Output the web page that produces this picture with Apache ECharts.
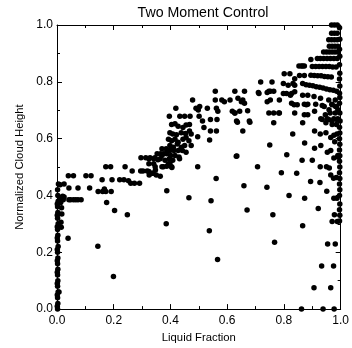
<!DOCTYPE html>
<html>
<head>
<meta charset="utf-8">
<script src="https://cdn.jsdelivr.net/npm/echarts@6/dist/echarts.min.js"></script>
<style>html,body{margin:0;padding:0;background:#fff}#c{width:352px;height:348px}</style>
</head>
<body>
<div id="c"></div>
<script>
var chartTitle = 'Two Moment Control';
var xName = 'Liquid Fraction';
var yName = 'Normalized Cloud Height';
var tickValues = [0.0, 0.2, 0.4, 0.6, 0.8, 1.0];

// [liquid fraction, normalized cloud height]
var leftStrip = [
 [0.002,0.0],[0.003,0.02],[0.002,0.04],[0.004,0.06],[0.007,0.06],[0.002,0.08],[0.003,0.1],[0.002,0.12],
 [0.003,0.14],[0.002,0.16],[0.003,0.18],[0.002,0.2],[0.004,0.22],[0.002,0.24],[0.003,0.26],[0.002,0.28],
 [0.004,0.3],[0.002,0.32],[0.003,0.34],[0.002,0.36],[0.004,0.38],[0.003,0.4],[0.002,0.42],[0.001,0.01],
 [0.001,0.05],[0.001,0.09],[0.001,0.13],[0.001,0.17],[0.001,0.21],[0.001,0.25],[0.001,0.29],[0.001,0.33],
 [0.001,0.37],[0.015,0.288],[0.014,0.306],[0.017,0.335],[0.016,0.357],[0.013,0.375],[0.01,0.392],
 [0.02,0.397],[0.025,0.395],[0.011,0.438],[0.025,0.44],[0.005,0.44]
];
var lowLeft = [
 [0.039,0.249],[0.144,0.221],[0.199,0.115],[0.248,0.332],
 [0.022,0.385],[0.042,0.385],[0.058,0.385],[0.074,0.385],[0.085,0.385],[0.048,0.385],[0.066,0.385],
 [0.042,0.426],[0.074,0.426],[0.115,0.426],
 [0.040,0.469],[0.058,0.469],[0.102,0.469],[0.120,0.469],
 [0.145,0.414],[0.161,0.414],[0.167,0.423],[0.172,0.414],[0.191,0.414],
 [0.159,0.455],[0.194,0.455],[0.221,0.455],[0.236,0.455],
 [0.172,0.501],[0.189,0.501],[0.240,0.501],
 [0.175,0.375],[0.203,0.347],
 [0.252,0.452],[0.260,0.443],[0.273,0.443],[0.291,0.443],
 [0.265,0.486],[0.295,0.486],[0.303,0.486],[0.318,0.486],[0.336,0.478]
];
var middle = [
 [0.324,0.529],[0.341,0.529],[0.324,0.512],[0.341,0.512],
 [0.296,0.533],[0.313,0.533],[0.328,0.533],[0.345,0.533],
 [0.324,0.484],[0.339,0.478],[0.350,0.472],[0.364,0.468],[0.325,0.472],
 [0.346,0.501],[0.356,0.526],[0.347,0.490],
 [0.364,0.529],[0.381,0.524],[0.396,0.529],[0.408,0.524],[0.432,0.529],
 [0.353,0.547],[0.370,0.541],[0.387,0.547],[0.401,0.541],[0.416,0.541],[0.430,0.535],
 [0.370,0.564],[0.385,0.564],[0.398,0.558],[0.412,0.558],[0.427,0.558],[0.442,0.558],[0.455,0.552],
 [0.398,0.576],[0.410,0.570],[0.424,0.581],[0.438,0.570],[0.450,0.576],[0.473,0.576],
 [0.393,0.598],[0.404,0.593],[0.416,0.598],[0.427,0.587],[0.444,0.598],[0.455,0.604],[0.465,0.593],
 [0.398,0.621],[0.408,0.616],[0.421,0.614],[0.438,0.621],[0.453,0.618],[0.467,0.627],[0.473,0.616],
 [0.404,0.650],[0.416,0.652],[0.427,0.644],[0.444,0.639],[0.455,0.648],[0.467,0.650],
 [0.396,0.679],[0.433,0.679],[0.450,0.679],[0.469,0.679],
 [0.419,0.707],[0.478,0.736],
 [0.375,0.501],[0.393,0.512],[0.404,0.501],[0.370,0.501],[0.387,0.503],[0.398,0.512],[0.405,0.498],
 [0.365,0.547],[0.375,0.547],[0.387,0.552],
 [0.387,0.417],[0.465,0.392],[0.543,0.381],[0.659,0.434],[0.561,0.460],[0.632,0.538],[0.496,0.501],
 [0.496,0.607],[0.538,0.595],[0.518,0.639],[0.541,0.627],[0.562,0.627],[0.655,0.627],
 [0.501,0.679],[0.513,0.662],[0.541,0.667],[0.564,0.667],[0.636,0.658],[0.680,0.658],
 [0.490,0.707],[0.498,0.701],[0.503,0.713],[0.530,0.707],[0.558,0.736],[0.562,0.707],[0.567,0.696],
 [0.590,0.730],[0.610,0.736],[0.650,0.730],[0.661,0.725],[0.618,0.696],[0.627,0.690],[0.644,0.696],
 [0.672,0.698],[0.558,0.767],[0.581,0.736],[0.627,0.767],
 [0.385,0.300],[0.537,0.276],[0.566,0.175],[0.670,0.349]
];
var upperRight = [
 [0.710,0.762],[0.718,0.799],[0.741,0.762],[0.752,0.767],[0.758,0.799],[0.741,0.730],[0.752,0.736],
 [0.784,0.736],[0.661,0.767],[0.712,0.759],[0.747,0.767],[0.764,0.767],[0.798,0.759],[0.827,0.759],
 [0.838,0.765],[0.801,0.828],[0.821,0.828],[0.798,0.794],[0.815,0.788],[0.832,0.794],[0.809,0.759],
 [0.823,0.753],[0.853,0.856],[0.866,0.856],[0.855,0.822],[0.872,0.822],[0.838,0.788],[0.866,0.794],
 [0.838,0.811],[0.827,0.725],[0.836,0.719],[0.847,0.719],[0.879,0.719],
 [0.638,0.742],[0.655,0.736],[0.627,0.690],[0.747,0.690],[0.764,0.690],[0.784,0.690],[0.838,0.690],
 [0.872,0.684],[0.884,0.684],[0.633,0.662],[0.678,0.662],[0.764,0.656],[0.866,0.656],
 [0.866,0.753],[0.884,0.753],[0.906,0.748],[0.929,0.742],[0.958,0.736],[0.981,0.736],
 [0.872,0.721],[0.884,0.721],[0.912,0.721],[0.935,0.717],[0.969,0.721],[0.986,0.713],
 [0.946,0.684],[0.963,0.690],[0.981,0.690],
 [0.935,0.667],[0.958,0.667],[0.969,0.662],[0.986,0.667],[0.998,0.662],
 [0.908,0.696],[0.942,0.713],[0.959,0.702],[0.970,0.719],[0.982,0.713],[0.990,0.702],
 [0.930,0.670],[0.953,0.670],[0.976,0.670],[0.990,0.670],[0.948,0.656],[0.970,0.650],[0.985,0.650]
];
var streaks = [
 [0.968,1.0],[0.978,1.0],[0.988,1.0],
 [0.968,0.971],[0.978,0.971],[0.988,0.971],
 [0.958,0.948],[0.968,0.948],[0.978,0.948],[0.988,0.948],
 [0.960,0.925],[0.970,0.925],[0.980,0.925],[0.990,0.925],
 [0.940,0.905],[0.950,0.905],[0.960,0.905],[0.970,0.905],[0.980,0.905],[0.990,0.905],
 [0.895,0.879],[0.918,0.882],[0.928,0.882],[0.940,0.882],[0.952,0.882],[0.964,0.882],[0.976,0.882],[0.988,0.882],
 [0.861,0.856],[0.872,0.856],[0.900,0.854],[0.912,0.854],[0.924,0.854],[0.936,0.854],[0.948,0.854],[0.960,0.854],[0.972,0.852],[0.984,0.852],
 [0.895,0.823],[0.907,0.822],[0.919,0.821],[0.931,0.821],[0.943,0.819],[0.955,0.818],[0.967,0.817],
 [0.878,0.790],[0.890,0.788],[0.902,0.786],[0.914,0.783],[0.926,0.781],[0.938,0.778],[0.950,0.775],
 [0.962,0.772],[0.974,0.770],[0.986,0.767]
];
var rightEdge = [
 [0.996,0.99],[0.997,0.95],[0.996,0.915],[0.997,0.89],[0.996,0.86],[0.997,0.83],[0.996,0.81],[0.997,0.785],
 [0.996,0.76],[0.997,0.745],[0.996,0.725],[0.997,0.69],[0.996,0.64],[0.997,0.62],[0.996,0.60],[0.997,0.58],
 [0.996,0.56],[0.997,0.54],[0.996,0.52],[0.997,0.50],[0.996,0.48],[0.997,0.46],[0.996,0.44],[0.997,0.42],
 [0.996,0.40],[0.997,0.37],[0.996,0.35],[0.997,0.33],[0.996,0.31]
];
var lowerRight = [
 [0.908,0.627],[0.928,0.616],[0.948,0.621],[0.965,0.604],[0.976,0.612],[0.987,0.616],
 [0.831,0.616],[0.979,0.589],[0.750,0.578],[0.873,0.585],[0.908,0.566],[0.930,0.576],
 [0.953,0.552],[0.965,0.558],[0.990,0.541],[0.810,0.543],[0.864,0.524],[0.900,0.524],[0.976,0.532],[0.990,0.535],
 [0.928,0.501],[0.950,0.501],[0.791,0.480],[0.845,0.478],[0.965,0.472],[0.985,0.463],[0.975,0.461],[0.960,0.497],
 [0.894,0.449],[0.927,0.446],[0.740,0.429],[0.951,0.415],[0.818,0.400],[0.873,0.390],[0.976,0.390],[0.987,0.390],
 [0.707,0.501],[0.782,0.690],[0.634,0.539],
 [0.862,0.0],[0.938,0.0],[0.977,0.0],[0.906,0.075],[0.965,0.075],[0.933,0.152],[0.975,0.152],
 [0.954,0.229],[0.981,0.229],[0.767,0.235],[0.866,0.293],[0.970,0.308],[0.988,0.308],[0.761,0.332],
 [0.921,0.354],[0.978,0.332]
];

var allPoints = [].concat(leftStrip, lowLeft, middle, upperRight, streaks, rightEdge, lowerRight);

var FONT = 'Liberation Sans, Arial, Helvetica, sans-serif';
function axis(pos, showLabel, margin, extra) {
  var a = {
    type: 'value', min: 0, max: 1, interval: 0.2, position: pos,
    axisLine: { show: true, onZero: false, lineStyle: { color: '#000', width: 1 } },
    axisTick: { show: true, inside: true, length: 5, lineStyle: { color: '#000', width: 1 } },
    minorTick: { show: true, splitNumber: 2, length: 3, lineStyle: { color: '#000', width: 1 } },
    splitLine: { show: false },
    axisLabel: {
      show: showLabel, color: '#000', fontSize: 12, fontFamily: FONT, margin: margin,
      showMinLabel: true, showMaxLabel: true,
      formatter: function (v) { return tickValues.indexOf(+v.toFixed(1)) >= 0 ? v.toFixed(1) : ''; }
    }
  };
  for (var k in extra) a[k] = extra[k];
  return a;
}

var chart = echarts.init(document.getElementById('c'), null, { renderer: 'canvas' });
chart.setOption({
  animation: false,
  backgroundColor: '#fff',
  grid: { left: 57, top: 25, width: 292, height: 291, containLabel: false },
  graphic: [{
    type: 'text', x: 203, y: 13.5,
    style: { text: chartTitle, font: '14.2px ' + FONT, fill: '#000',
             textAlign: 'center', textVerticalAlign: 'middle', align: 'center', verticalAlign: 'middle' }
  }],
  xAxis: [
    axis('bottom', true, 6, { name: xName, nameLocation: 'middle', nameGap: 19,
      nameTextStyle: { color: '#000', fontSize: 11.3, fontFamily: FONT } }),
    axis('top', false, 6, {})
  ],
  yAxis: [
    axis('left', true, 4, { name: yName, nameLocation: 'middle', nameGap: 28,
      nameTextStyle: { color: '#000', fontSize: 11.3, fontFamily: FONT } }),
    axis('right', false, 4, {})
  ],
  series: [{
    type: 'scatter', xAxisIndex: 0, yAxisIndex: 0,
    symbol: 'circle', symbolSize: 5.5,
    itemStyle: { color: '#000', opacity: 1 },
    clip: true,
    data: allPoints
  }]
});
</script>
</body>
</html>
